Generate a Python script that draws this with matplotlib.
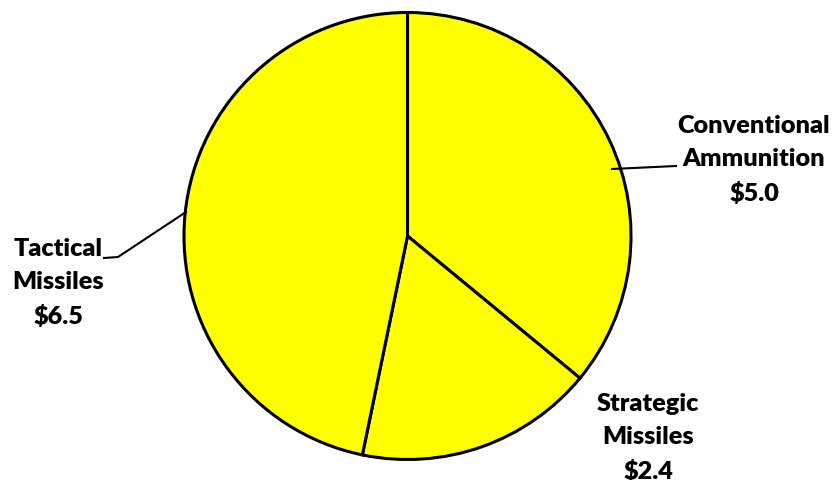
import matplotlib.pyplot as plt

labels = ['Conventional\nAmmunition\n$5.0', 'Strategic\nMissiles\n$2.4', 'Tactical\nMissiles\n$6.5']
values = [5.0, 2.4, 6.5]

W, H = 834, 481
fig = plt.figure(figsize=(W / 100, H / 100), dpi=100)
ax = fig.add_axes([0, 0, 1, 1])

cx, cy, r = 407.5, H - 237, 223.5
ax.pie(values, startangle=90, counterclock=False, center=(cx, cy), radius=r,
       colors=['#ffff00'] * 3, frame=True,
       wedgeprops=dict(edgecolor='black', linewidth=2.2))
ax.set_xlim(0, W)
ax.set_ylim(0, H)
ax.set_aspect('equal')
ax.axis('off')

font = dict(family='Lato', fontweight='heavy', fontsize=18.2, ha='center', va='center',
            linespacing=1.6)
ax.text(754, H - 160, labels[0], **font)
ax.text(648, H - 438, labels[1], **font)
ax.text(58, H - 283, labels[2], **font)

# leader lines
ax.plot([612, 676], [H - 170, H - 167], color='black', lw=1.5)
ax.plot([186, 118, 104], [H - 213, H - 258, H - 259], color='black', lw=1.5)

fig.savefig('out.png', dpi=100)
